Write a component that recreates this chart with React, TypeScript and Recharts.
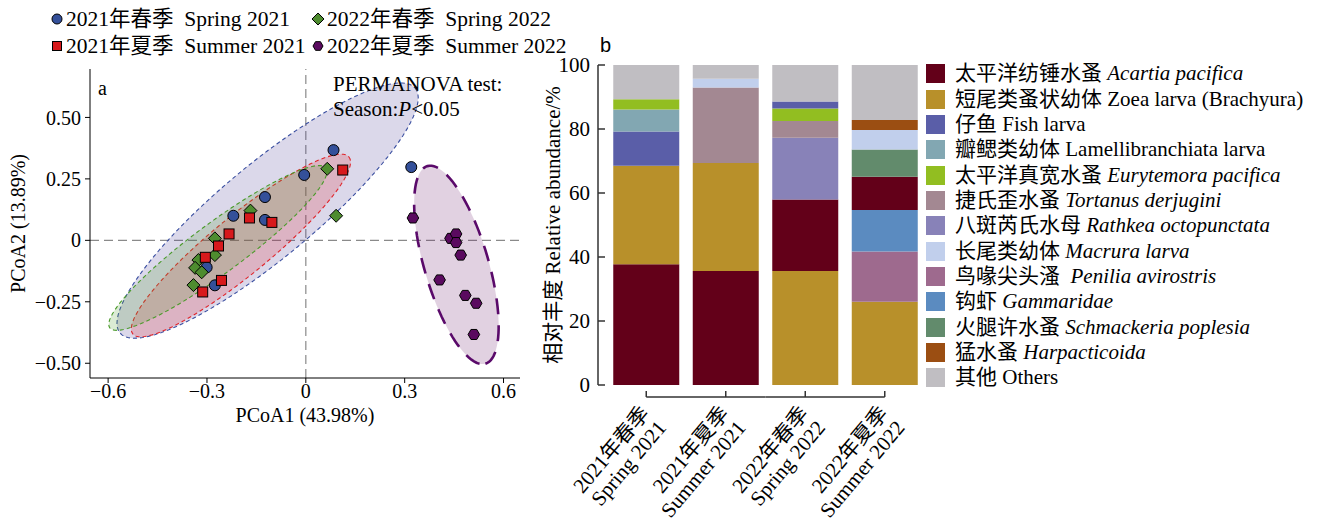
import React from 'react';
import { ScatterChart, Scatter, XAxis, YAxis, ReferenceLine, BarChart, Bar, Cell } from 'recharts';

const FONT = '"Liberation Serif", "Times New Roman", "Noto Sans CJK SC", serif';

// ---------- Panel a: PCoA scores ----------
const spring2021X = [0.084, -0.005, -0.124, -0.220, -0.124, -0.301, -0.276, 0.320];
const spring2021Y = [0.367, 0.266, 0.176, 0.100, 0.083, -0.110, -0.183, 0.298];
const summer2021X = [0.112, -0.171, -0.103, -0.233, -0.265, -0.305, -0.256, -0.313];
const summer2021Y = [0.286, 0.091, 0.073, 0.026, -0.023, -0.069, -0.163, -0.210];
const spring2022X = [0.065, 0.092, -0.168, -0.276, -0.276, -0.326, -0.336, -0.316, -0.341];
const spring2022Y = [0.291, 0.100, 0.121, 0.008, -0.060, -0.080, -0.112, -0.130, -0.182];
const summer2022X = [0.325, 0.439, 0.456, 0.456, 0.470, 0.406, 0.484, 0.517, 0.510];
const summer2022Y = [0.091, 0.008, 0.026, -0.009, -0.060, -0.161, -0.224, -0.256, -0.383];

// 95% ellipses: [centerX, centerY, semiAxis1X, semiAxis1Y, semiAxis2X, semiAxis2Y]
const ellipseSpring2021 = [-0.116, 0.121, 0.448, 0.498, 0.0913, -0.147];
const ellipseSummer2021 = [-0.197, -0.021, 0.328, 0.360, 0.056, -0.092];
const ellipseSpring2022 = [-0.267, -0.031, 0.328, 0.325, 0.045, -0.082];
const ellipseSummer2022 = [0.457, -0.100, 0.088, -0.402, 0.0933, 0.0366];

const pcoaXTicks = [-0.6, -0.3, 0, 0.3, 0.6];
const pcoaYTicks = [-0.5, -0.25, 0, 0.25, 0.5];
const pcoaXDomain = [-0.655, 0.65];
const pcoaYDomain = [-0.56, 0.697];

const groupColors = { s21: '#34509A', u21: '#D7191C', s22: '#4E8C2F', u22: '#5A0A5F' };

// ---------- Panel b: relative abundance ----------
const seasons = ['2021年春季|Spring 2021', '2021年夏季|Summer 2021', '2022年春季|Spring 2022', '2022年夏季|Summer 2022'];
const speciesCn = ['太平洋纺锤水蚤', '短尾类蚤状幼体', '仔鱼', '瓣鳃类幼体', '太平洋真宽水蚤', '捷氏歪水蚤', '八斑芮氏水母', '长尾类幼体', '鸟喙尖头溞 ', '钩虾', '火腿许水蚤', '猛水蚤'];
const speciesLatin = ['Acartia pacifica', 'Zoea larva (Brachyura)', 'Fish larva', 'Lamellibranchiata larva', 'Eurytemora pacifica', 'Tortanus derjugini', 'Rathkea octopunctata', 'Macrura larva', 'Penilia avirostris', 'Gammaridae', 'Schmackeria poplesia', 'Harpacticoida'];
const speciesItalic = [true, false, false, false, true, true, true, true, true, true, true, true];
const speciesColors = ['#630019', '#B8902A', '#5A5EA8', '#82A7B2', '#92BE21', '#A38892', '#8882B8', '#C1CFEC', '#9E6A8E', '#5B8BC0', '#628B6C', '#9B4E12'];
const othersColor = '#C0BEC2';

const abundSpring2021 = [37.7, 30.8, 10.7, 6.9, 3.2, 0, 0, 0, 0, 0, 0, 0];
const abundSummer2021 = [35.6, 33.8, 0, 0, 0, 23.6, 0, 2.7, 0, 0, 0, 0];
const abundSpring2022 = [22.4, 35.6, 2.2, 0, 3.9, 5.2, 19.3, 0, 0, 0, 0, 0];
const abundSummer2022 = [10.4, 26.0, 0, 0, 0, 0, 0, 6.1, 15.7, 13.0, 8.5, 3.1];
const abundOthers = [10.7, 4.3, 11.4, 17.2];
const abundTicks = [0, 20, 40, 60, 80, 100];

// ---------- helpers ----------
const toPoints = (xs: number[], ys: number[]) => xs.map((x, i) => ({ x, y: ys[i] }));

const ellipseOutline = (e: number[]) => {
  const pts: { x: number; y: number }[] = [];
  for (let k = 0; k < 96; k++) {
    const t = (k / 96) * Math.PI * 2;
    pts.push({ x: e[0] + e[2] * Math.cos(t) + e[4] * Math.sin(t), y: e[1] + e[3] * Math.cos(t) + e[5] * Math.sin(t) });
  }
  return pts;
};

const fmtSigned = (d: number) => (v: number) => (v === 0 ? '0' : (v < 0 ? '\u2212' : '') + Math.abs(v).toFixed(d));

const circleShape = (fill: string, r = 5.5) => (p: any) => <circle cx={p.cx} cy={p.cy} r={r} fill={fill} stroke="#000" strokeWidth={1} />;
const squareShape = (fill: string, s = 5) => (p: any) => <rect x={p.cx - s} y={p.cy - s} width={2 * s} height={2 * s} fill={fill} stroke="#000" strokeWidth={1} />;
const diamondShape = (fill: string, s = 6.5) => (p: any) => (
  <polygon points={`${p.cx},${p.cy - s} ${p.cx + s},${p.cy} ${p.cx},${p.cy + s} ${p.cx - s},${p.cy}`} fill={fill} stroke="#000" strokeWidth={1} />
);
const hexShape = (fill: string, r = 5.8) => (p: any) => {
  const pts = [0, 1, 2, 3, 4, 5].map((k) => `${p.cx + r * Math.cos((k * Math.PI) / 3)},${p.cy + r * Math.sin((k * Math.PI) / 3)}`).join(' ');
  return <polygon points={pts} fill={fill} stroke="#000" strokeWidth={1} />;
};
const emptyShape = () => <g />;

const EllipseSeries = (e: number[], color: string, fillColor: string, dash: string, width: number, key: string) => (
  <Scatter
    key={key}
    data={ellipseOutline(e)}
    fill={color}
    shape={emptyShape}
    line={{ stroke: color, strokeWidth: width, strokeDasharray: dash, fill: fillColor, fillOpacity: 0.2 }}
    lineType="joint"
    lineJointType="linearClosed"
    isAnimationActive={false}
  />
);

// ---------- bar data ----------
const seasonAbund = [abundSpring2021, abundSummer2021, abundSpring2022, abundSummer2022];
const barRows = seasons.map((s, i) => {
  const order = seasonAbund[i]
    .map((v, k) => ({ v, k }))
    .filter((o) => o.v > 0)
    .sort((a, b) => b.v - a.v);
  const row: any = { season: s, others: abundOthers[i] };
  order.forEach((o, r) => {
    row['r' + r] = o.v;
    row['k' + r] = o.k;
  });
  return row;
});
const slotCount = Math.max(...seasonAbund.map((a) => a.filter((v) => v > 0).length));
const slots = Array.from({ length: slotCount }, (_, r) => r);

const BarYTick = (p: any) => (
  <g>
    <line x1={p.x + 8} x2={p.x + 15} y1={p.y} y2={p.y} stroke="#333" strokeWidth={1.5} />
    <text x={p.x} y={p.y} dy="0.35em" textAnchor="end" fontFamily={FONT} fontSize={21} fill="#000">
      {p.payload.value}
    </text>
  </g>
);

const BarXTick = (p: any) => {
  const { x, y, payload, index } = p;
  const n = p.visibleTicksCount ?? seasons.length;
  const half = payload.offset ?? 39.75;
  const lineY = y + 12;
  const left = index === 0 ? x : x - half;
  const right = index === n - 1 ? x : x + half;
  const [cn, en] = String(payload.value).split('|');
  return (
    <g>
      <line x1={left} x2={right} y1={lineY} y2={lineY} stroke="#333" strokeWidth={1.5} />
      <line x1={x} x2={x} y1={lineY} y2={lineY - 6} stroke="#333" strokeWidth={1.5} />
      <g transform={`translate(${x + 4},${lineY + 17}) rotate(-50)`}>
        <text textAnchor="end" fontFamily={FONT} fontSize={21} fill="#000">
          <tspan x={0} y={0}>{cn}</tspan>
          <tspan x={0} dy="1.05em">{en}</tspan>
        </text>
      </g>
    </g>
  );
};

const LegendMarker = ({ kind, color }: { kind: string; color: string }) => {
  const p = { cx: 7, cy: 7 };
  let el: any;
  if (kind === 'circle') el = circleShape(color, 5)(p);
  else if (kind === 'square') el = squareShape(color, 4.5)(p);
  else if (kind === 'diamond') el = diamondShape(color, 6)(p);
  else el = hexShape(color, 5)(p);
  return (
    <svg width={14} height={14} style={{ display: 'block' }}>
      {el}
    </svg>
  );
};

const topLegend = [
  { kind: 'circle', color: groupColors.s21, label: '2021年春季  Spring 2021', x: 50, y: 19 },
  { kind: 'diamond', color: groupColors.s22, label: '2022年春季  Spring 2022', x: 311, y: 19 },
  { kind: 'square', color: groupColors.u21, label: '2021年夏季  Summer 2021', x: 50, y: 46 },
  { kind: 'hex', color: groupColors.u22, label: '2022年夏季  Summer 2022', x: 311, y: 46 },
];

export default function App() {
  return (
    <div style={{ position: 'absolute', left: 0, top: 0, width: 1322, height: 518, background: '#fff', fontFamily: FONT, overflow: 'hidden' }}>
      {/* Panel a */}
      <div style={{ position: 'absolute', left: 0, top: 0 }}>
        <ScatterChart width={600} height={518} margin={{ top: 69, right: 80, bottom: 0, left: 0 }}>
          <XAxis
            type="number"
            dataKey="x"
            domain={pcoaXDomain}
            ticks={pcoaXTicks}
            tickFormatter={fmtSigned(1)}
            allowDataOverflow
            height={140}
            axisLine={{ stroke: '#000' }}
            tickLine={{ stroke: '#000' }}
            tickSize={5}
            tickMargin={1}
            tick={{ fontFamily: FONT, fontSize: 20, fill: '#000' }}
            label={{ value: 'PCoA1 (43.98%)', position: 'insideTop', offset: 30, style: { fontFamily: FONT, fontSize: 20, fill: '#000' } }}
          />
          <YAxis
            type="number"
            dataKey="y"
            domain={pcoaYDomain}
            ticks={pcoaYTicks}
            tickFormatter={fmtSigned(2)}
            allowDataOverflow
            width={90}
            axisLine={{ stroke: '#000' }}
            tickLine={{ stroke: '#000' }}
            tickSize={5}
            tickMargin={4}
            tick={{ fontFamily: FONT, fontSize: 20, fill: '#000' }}
            label={{ value: 'PCoA2 (13.89%)', angle: -90, position: 'insideLeft', offset: 18, style: { fontFamily: FONT, fontSize: 20, fill: '#000', textAnchor: 'middle' } }}
          />
          <XAxis xAxisId="top" orientation="top" type="number" domain={pcoaXDomain} allowDataOverflow height={0} tick={false} tickLine={false} axisLine={{ stroke: '#000' }} />
          <YAxis yAxisId="right" orientation="right" type="number" domain={pcoaYDomain} allowDataOverflow width={0} tick={false} tickLine={false} axisLine={{ stroke: '#000' }} />
          <ReferenceLine x={0} stroke="#8a8a8a" strokeDasharray="9 5" strokeWidth={1.2} />
          <ReferenceLine y={0} stroke="#8a8a8a" strokeDasharray="9 5" strokeWidth={1.2} />
          {EllipseSeries(ellipseSpring2021, '#3A4FA0', '#4A3C98', '4 3', 1.1, 'e1')}
          {EllipseSeries(ellipseSummer2021, '#E0242A', '#E0242A', '4 3', 1.1, 'e2')}
          {EllipseSeries(ellipseSpring2022, '#4A9A2A', '#4A9A2A', '4 3', 1.1, 'e3')}
          {EllipseSeries(ellipseSummer2022, '#5A0A6A', '#6A1A6A', '16 11', 2.6, 'e4')}
          <Scatter data={toPoints(spring2021X, spring2021Y)} shape={circleShape(groupColors.s21)} isAnimationActive={false} />
          <Scatter data={toPoints(spring2022X, spring2022Y)} shape={diamondShape(groupColors.s22)} isAnimationActive={false} />
          <Scatter data={toPoints(summer2021X, summer2021Y)} shape={squareShape(groupColors.u21)} isAnimationActive={false} />
          <Scatter data={toPoints(summer2022X, summer2022Y)} shape={hexShape(groupColors.u22)} isAnimationActive={false} />
        </ScatterChart>
      </div>

      {/* Panel a legend */}
      {topLegend.map((it) => (
        <div key={it.label} style={{ position: 'absolute', left: it.x, top: it.y - 12, height: 24, display: 'flex', alignItems: 'center', whiteSpace: 'pre', fontSize: 21.5, lineHeight: '24px' }}>
          <LegendMarker kind={it.kind} color={it.color} />
          <span style={{ marginLeft: 2 }}>{it.label}</span>
        </div>
      ))}

      {/* Panel a annotations */}
      <div style={{ position: 'absolute', left: 98, top: 76, fontSize: 20, lineHeight: '24px' }}>a</div>
      <div style={{ position: 'absolute', left: 333, top: 72, fontSize: 21, lineHeight: '25px', whiteSpace: 'pre' }}>
        PERMANOVA test:
        <br />
        Season:<i>P</i>&lt;0.05
      </div>

      {/* Panel b */}
      <div style={{ position: 'absolute', left: 600, top: 33, fontFamily: '"Liberation Sans", Arial, sans-serif', fontSize: 20, lineHeight: '24px' }}>b</div>
      <div style={{ position: 'absolute', left: 520, top: 0 }}>
        <BarChart width={406} height={518} data={barRows} margin={{ top: 65, right: 1.5, bottom: 0, left: 0 }} barCategoryGap="8.5%">
          <XAxis dataKey="season" type="category" interval={0} height={133} padding={{ left: 8.5, right: 0 }} axisLine={false} tickLine={false} tickSize={0} tickMargin={0} tick={<BarXTick />} />
          <YAxis
            type="number"
            domain={[0, 100]}
            ticks={abundTicks}
            width={78}
            axisLine={{ stroke: '#333', strokeWidth: 1.5 }}
            tickLine={false}
            tickSize={0}
            tickMargin={8}
            tick={<BarYTick />}
            label={{ value: '相对丰度 Relative abundance/%', angle: -90, position: 'insideLeft', offset: 33, style: { fontFamily: FONT, fontSize: 21, fill: '#000', textAnchor: 'middle' } }}
          />
          {slots.map((r) => (
            <Bar key={'r' + r} dataKey={'r' + r} stackId="a" isAnimationActive={false}>
              {barRows.map((row, i) => (
                <Cell key={i} fill={row['k' + r] !== undefined ? speciesColors[row['k' + r]] : 'none'} />
              ))}
            </Bar>
          ))}
          <Bar dataKey="others" stackId="a" fill={othersColor} isAnimationActive={false} />
        </BarChart>
      </div>

      {/* Panel b legend */}
      <div style={{ position: 'absolute', left: 926, top: 61.3, fontSize: 21 }}>
        {speciesCn.concat(['其他']).map((cn, i) => {
          const isOther = i === speciesCn.length;
          const color = isOther ? othersColor : speciesColors[i];
          const lat = isOther ? 'Others' : speciesLatin[i];
          const ital = isOther ? false : speciesItalic[i];
          return (
            <div key={i} style={{ height: 25.33, display: 'flex', alignItems: 'center', whiteSpace: 'pre' }}>
              <span style={{ width: 19, height: 19, background: color, flex: 'none', marginRight: 10 }} />
              <span style={{ lineHeight: 1 }}>
                {cn} {ital ? <i>{lat}</i> : lat}
              </span>
            </div>
          );
        })}
      </div>
    </div>
  );
}
